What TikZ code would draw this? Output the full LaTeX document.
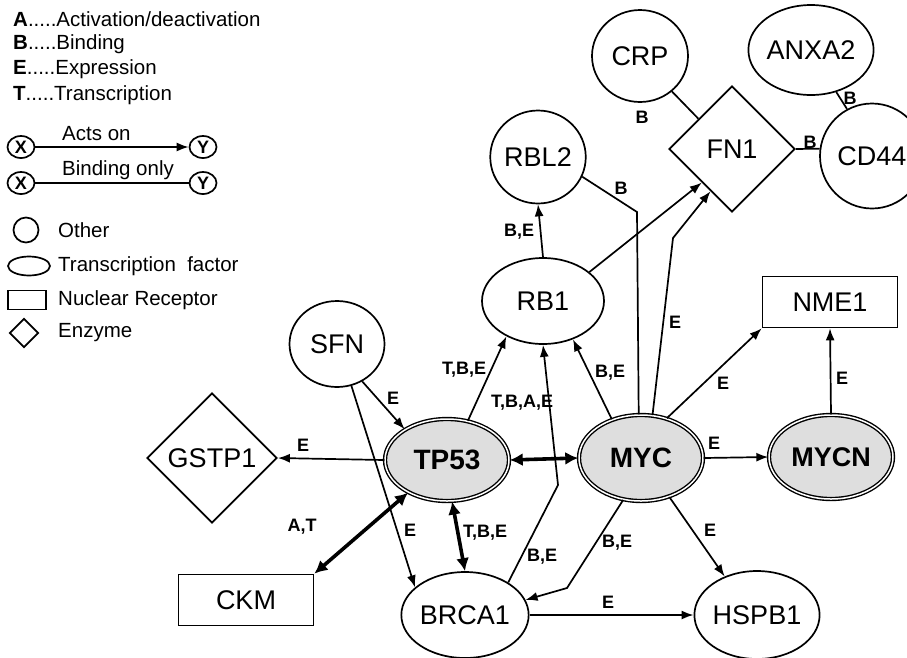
\documentclass[tikz,border=0pt]{standalone}
\usepackage{fontspec}
\setmainfont{Liberation Sans}
\usetikzlibrary{shapes.geometric,arrows.meta}
\begin{document}
\begin{tikzpicture}[x=1pt,y=-1pt,
    gene/.style={draw,ellipse,line width=1.7pt,inner sep=0pt,font=\fontsize{27}{30}\selectfont},
    tf/.style={gene,line width=1.4pt,double=white,double distance=1.5pt,fill=black!13,font=\bfseries\fontsize{28}{30}\selectfont},
    receptor/.style={gene,rectangle,minimum width=135pt,minimum height=51pt},
    enzyme/.style={gene,diamond},
    lbl/.style={inner sep=0pt,font=\bfseries\fontsize{18}{20}\selectfont},
    acts/.style={line width=1.7pt,-{Latex[length=12pt,width=9pt]}},
    bind/.style={line width=1.7pt},
    both/.style={line width=3.6pt,{Latex[length=13pt,width=13pt]}-{Latex[length=13pt,width=13pt]}},
    key/.style={anchor=west,inner sep=0pt,font=\fontsize{20.5}{22}\selectfont},
    xy/.style={draw,ellipse,line width=1.7pt,inner sep=0pt,minimum width=27pt,minimum height=22pt,font=\bfseries\fontsize{18}{20}\selectfont}]
  \useasboundingbox (0,0) rectangle (907,657);
  \node[key] (KA) at (13,19) {\textbf{A}.....Activation/deactivation};
  \node[key] (KB) at (13,44) {\textbf{B}.....Binding};
  \node[key] (KE) at (13,69) {\textbf{E}.....Expression};
  \node[key] (KT) at (13,95) {\textbf{T}.....Transcription};
  \node[xy] (X1) at (21,147) {X};
  \node[xy] (Y1) at (203,147) {Y};
  \node[xy] (X2) at (21,183) {X};
  \node[xy] (Y2) at (203,183) {Y};
  \draw[acts] (X1) -- (Y1);
  \draw[bind] (X2) -- (Y2);
  \node[key] (KActs) at (62,134) {Acts on};
  \node[key] (KBind) at (62,170) {Binding only};
  \node[draw,ellipse,line width=1.7pt,minimum width=25pt,minimum height=25pt] (KO) at (26,230) {};
  \node[draw,ellipse,line width=1.7pt,minimum width=42pt,minimum height=19pt] (KTF) at (29,266) {};
  \node[draw,rectangle,line width=1.7pt,minimum width=38pt,minimum height=19pt] (KNR) at (27,300) {};
  \node[draw,diamond,line width=1.7pt,inner sep=0pt,minimum width=29pt,minimum height=29pt] (KEZ) at (24,333) {};
  \node[key] (KOt) at (58,230) {Other};
  \node[key] (KTFt) at (58,266) {Transcription\ \ factor};
  \node[key] (KNRt) at (58,300) {Nuclear Receptor};
  \node[key] (KEZt) at (58,333) {Enzyme};
  \node[gene,minimum width=96pt,minimum height=92pt] (CRP) at (640,56) {CRP};
  \node[gene,minimum width=93pt,minimum height=90pt] (ANXA2) at (811,50) {ANXA2};
  \node[gene,minimum width=104pt,minimum height=105pt] (CD44) at (872,156) {CD44};
  \node[enzyme,minimum width=126pt,minimum height=126pt] (FN1) at (732,149) {FN1};
  \node[gene,minimum width=94pt,minimum height=93pt] (RBL2) at (538,157) {RBL2};
  \node[gene,minimum width=122pt,minimum height=86pt] (RB1) at (543,301) {RB1};
  \node[gene,minimum width=95pt,minimum height=86pt] (SFN) at (337,344) {SFN};
  \node[tf,minimum width=124pt,minimum height=82pt] (TP53) at (447,460) {TP53};
  \node[tf,minimum width=124pt,minimum height=86pt] (MYC) at (641,458) {MYC};
  \node[tf,minimum width=124pt,minimum height=84pt,font=\bfseries\fontsize{27}{30}\selectfont] (MYCN) at (831,457) {MYCN};
  \node[receptor] (NME1) at (830,302) {NME1};
  \node[enzyme,minimum width=130pt,minimum height=130pt] (GSTP1) at (212,458) {GSTP1};
  \node[receptor] (CKM) at (246,600) {CKM};
  \node[gene,minimum width=124pt,minimum height=86pt] (BRCA1) at (465,615) {BRCA1};
  \node[gene,minimum width=90pt,minimum height=88pt] (HSPB1) at (757,615) {HSPB1};
  \coordinate (K1) at (558,485);
  \coordinate (K2) at (567,588);
  \coordinate (K3) at (637,212);
  \coordinate (K4) at (673,238);
  \draw[acts] (SFN.-56) -- (TP53.144);
  \draw[acts] (SFN.-71) -- (BRCA1.151);
  \draw[acts] (TP53.west) -- (GSTP1.east);
  \draw[both] (TP53.220) -- (CKM.north east);
  \draw[both] (TP53.-83) -- (BRCA1.north);
  \draw[both] (TP53.east) -- (MYC.west);
  \draw[acts] (TP53.62) -- (RB1.224);
  \draw[acts] (BRCA1.37) -- (K1) -- (RB1.south);
  \draw[acts] (MYC.-113) -- (K2) -- (BRCA1.14);
  \draw[acts] (MYC.-54) -- (HSPB1.130);
  \draw[acts] (BRCA1.east) -- (HSPB1.west);
  \draw[acts] (MYC.east) -- (MYCN.west);
  \draw[acts] (MYC.57) -- (NME1.south west);
  \draw[acts] (MYCN.north) -- (NME1.south);
  \draw[acts] (MYC.127) -- (RB1.-52);
  \draw[bind] (MYC.93) -- (K3) -- (RBL2.-24);
  \draw[acts] (MYC.75) -- (K4) -- (FN1.243);
  \draw[acts] (RB1.32) -- (FN1.228);
  \draw[acts] (RB1.north) -- (RBL2.south);
  \draw[bind] (CRP.-48) -- (FN1.138);
  \draw[bind] (FN1.east) -- (CD44.172);
  \draw[bind] (ANXA2.-59) -- (CD44.118);
  \node[lbl] (L1) at (393,398) {E};
  \node[lbl] (L2) at (410,530) {E};
  \node[lbl] (L3) at (303,445) {E};
  \node[lbl] (L4) at (302,527) {A,T};
  \node[lbl] (L5) at (485,533) {T,B,E};
  \node[lbl] (L6) at (464,370) {T,B,E};
  \node[lbl] (L7) at (522,403) {T,B,A,E};
  \node[lbl] (L8) at (542,557) {B,E};
  \node[lbl] (L9) at (610,373) {B,E};
  \node[lbl] (L10) at (617,543) {B,E};
  \node[lbl] (L11) at (710,530) {E};
  \node[lbl] (L12) at (608,602) {E};
  \node[lbl] (L13) at (714,443) {E};
  \node[lbl] (L14) at (723,383) {E};
  \node[lbl] (L15) at (842,378) {E};
  \node[lbl] (L16) at (675,322) {E};
  \node[lbl] (L17) at (621,188) {B};
  \node[lbl] (L18) at (519,232) {B,E};
  \node[lbl] (L19) at (642,117) {B};
  \node[lbl] (L20) at (810,142) {B};
  \node[lbl] (L21) at (850,98) {B};
\end{tikzpicture}
\end{document}
